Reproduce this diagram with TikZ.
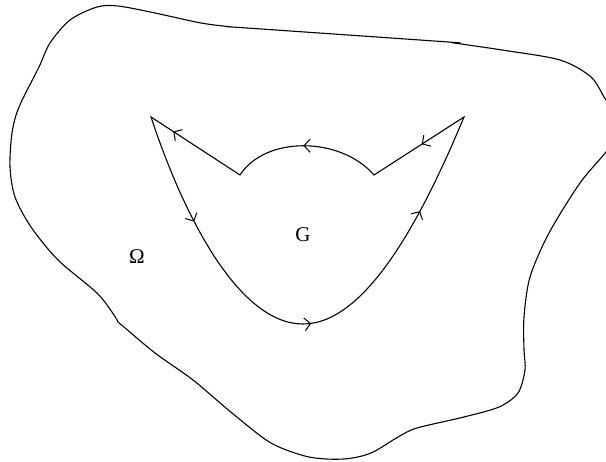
\documentclass[tikz,border=0pt]{standalone}
\usepackage{fontspec}
\setmainfont{Liberation Serif}
\usetikzlibrary{arrows.meta,decorations.markings}
\tikzset{
  curve/.style={line width=1.1pt, line join=miter},
  arr/.style={decoration={markings, mark=at position #1 with {\arrow[line width=1pt]{Straight Barb[length=6pt,width=13pt]}}}, postaction={decorate}},
  lbl/.style={font=\fontsize{21}{25}\selectfont, inner sep=0pt}
}
\begin{document}
\begin{tikzpicture}[x=1pt,y=-1pt]
\useasboundingbox (0,0) rectangle (606,462);
\begin{scope}
\clip (0,0) rectangle (606,462);
\draw[curve] plot[smooth cycle, tension=0.5] coordinates {
(118,6) (155,13) (201,23) (232,27) (247,28) (448,42) (454,43) (502,50) (560,60) (591,77) (606,100) (625,125) (606,152) (580,183) (549,233) (530,277) (524,317) (524,350) (525,370) (518,393) (499,407) (464,417) (417,428) (398,437) (371,453) (344,459) (309,457) (271,443) (232,413) (193,380) (155,353) (124,327) (118,322) (114,315) (97,293) (58,260) (31,227) (15,197) (10,167) (12,133) (19,107) (39,67) (50,43) (70,20) (97,7)};
\end{scope}
\coordinate (LT) at (151,117);
\coordinate (B) at (303,324);
\coordinate (RT) at (464,117);
\coordinate (RN) at (374,175);
\coordinate (LN) at (240,175);
\draw[curve] (LT) .. controls (185,220) and (240,324) .. (B) .. controls (366,324) and (422,218) .. (RT) -- (RN) .. controls (340,136) and (265,136) .. (LN) -- cycle;
\path[arr=0.42] (LT) .. controls (185,220) and (240,324) .. (B);
\path[arr=0.03] (B) .. controls (366,324) and (422,218) .. (RT);
\path[arr=0.62] (B) .. controls (366,324) and (422,218) .. (RT);
\path[arr=0.47] (RT) -- (RN);
\path[arr=0.52] (RN) .. controls (340,136) and (265,136) .. (LN);
\path[arr=0.75] (LN) -- (LT);
\node[lbl] (G) at (303,235) {G};
\node[lbl] (Om) at (137,257) {Ω};
\end{tikzpicture}
\end{document}
